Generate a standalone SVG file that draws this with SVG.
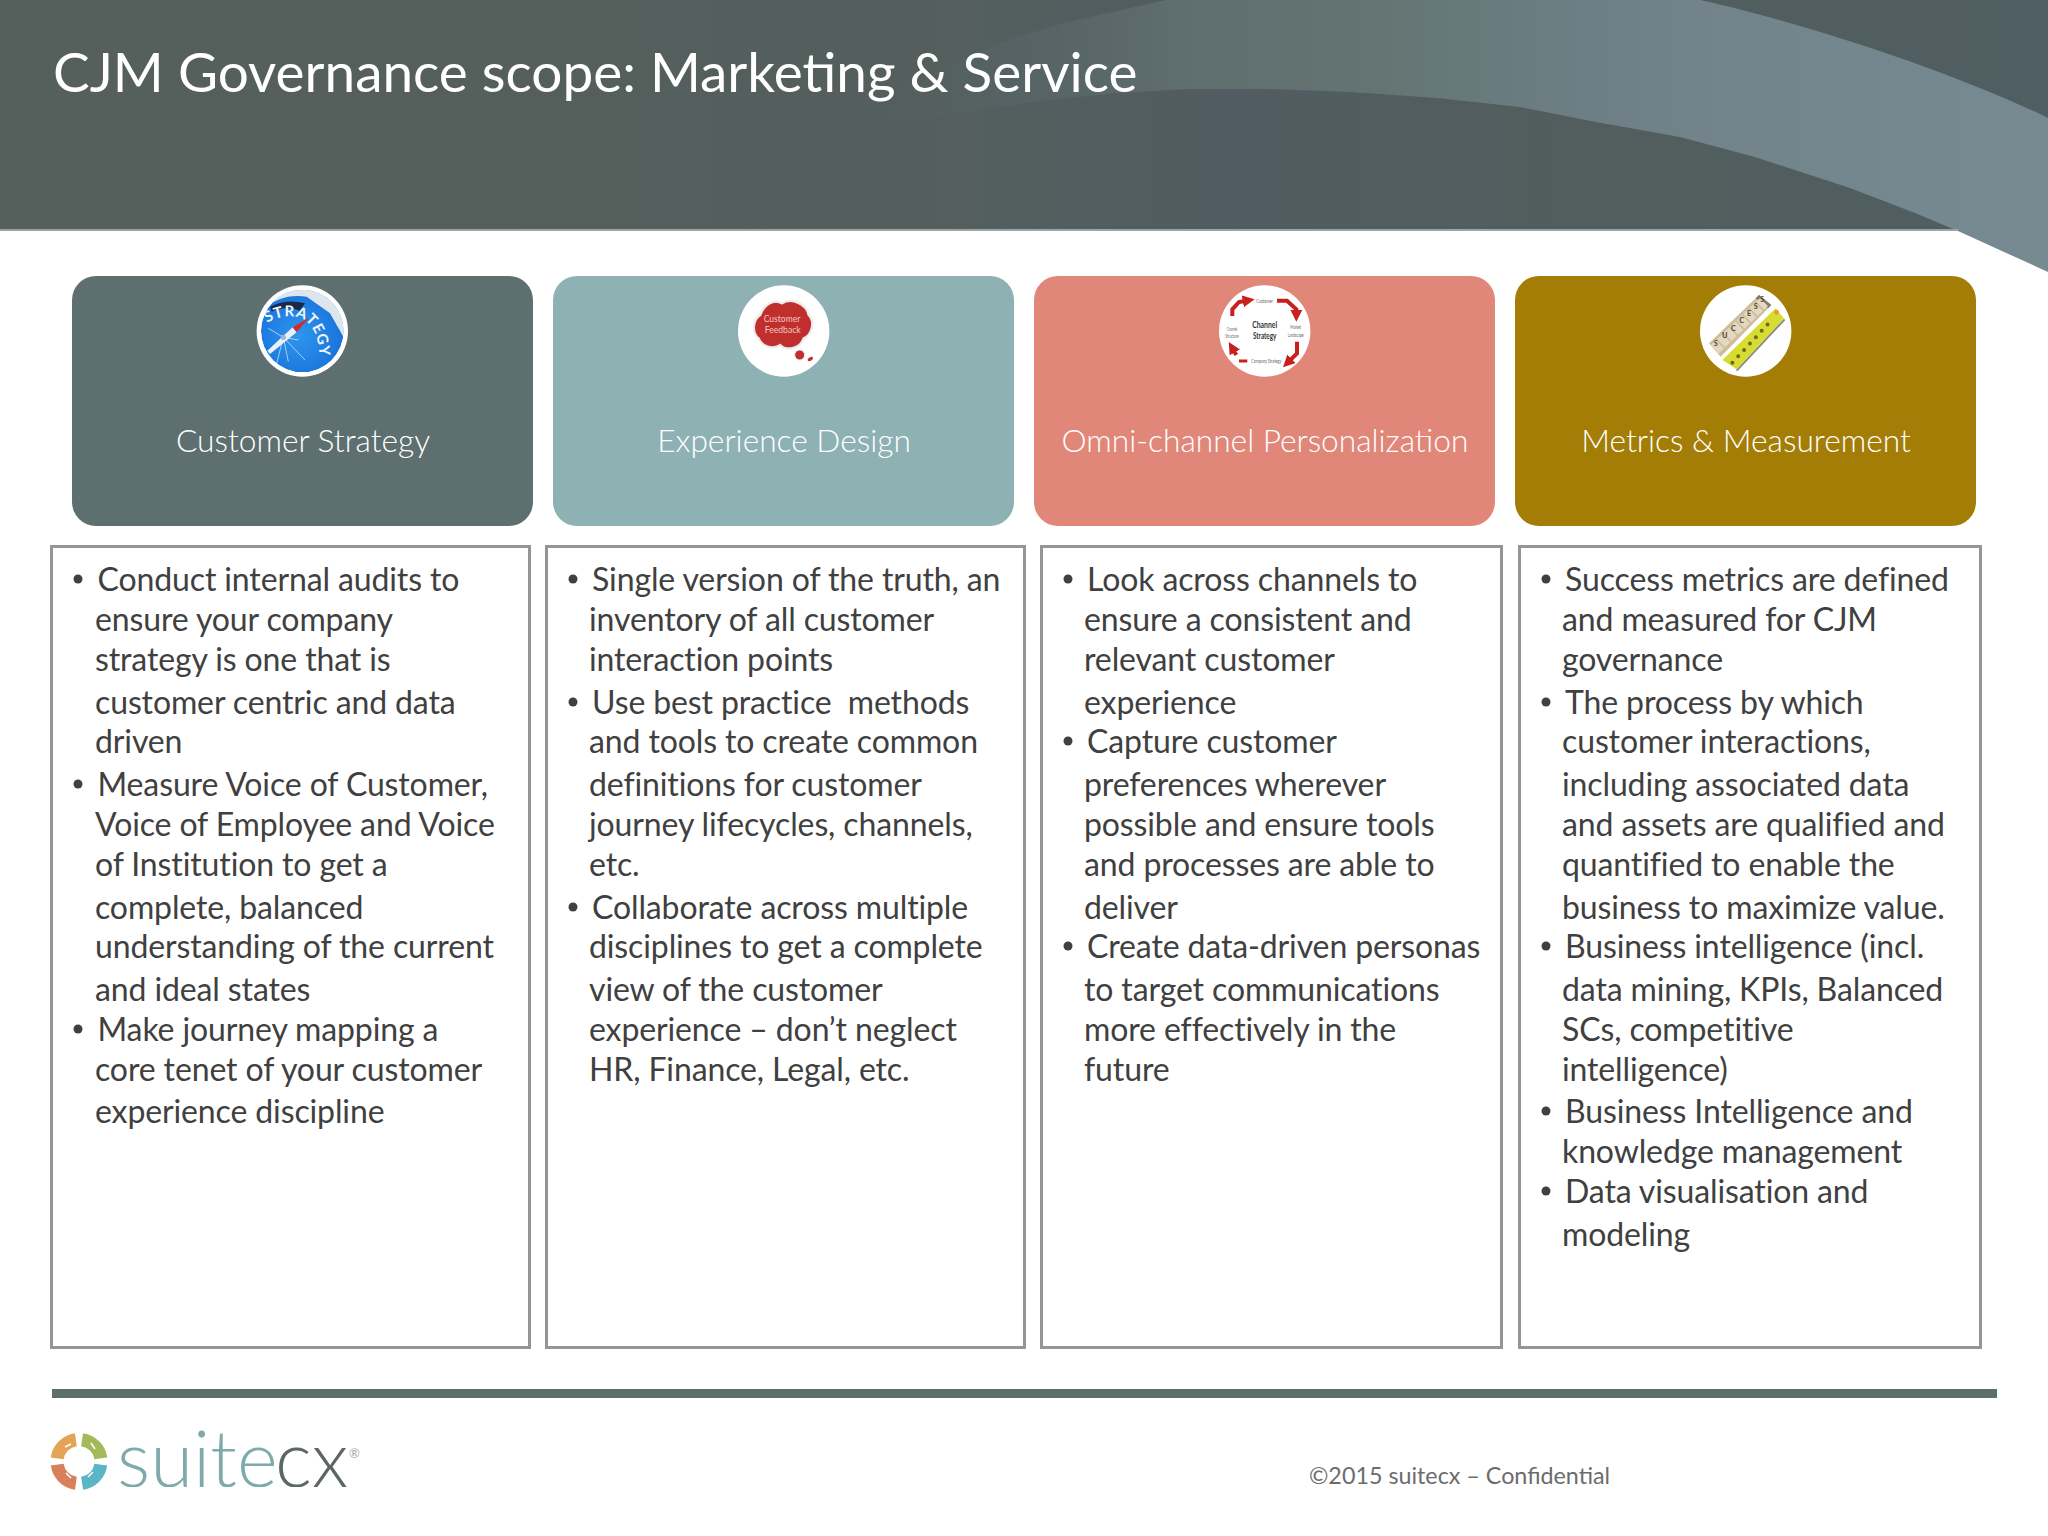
<svg xmlns="http://www.w3.org/2000/svg" width="2048" height="1536" viewBox="0 0 2048 1536">
<style>
text{font-family:Lato,"Noto Sans",sans-serif}
.title{font-size:54.9px;fill:#fff}
.lab{font-size:31.7px;fill:#fff;text-anchor:middle;font-weight:300}
.box{fill:#fff;stroke:#959595;stroke-width:3}
.b{font-size:32px;letter-spacing:-.12px;fill:#404040}
.dot{fill:#404040}
.ring{fill:#fff}
.tiny{fill:#666;font-size:19px;text-anchor:middle}
.big{fill:#333;font-size:27px;font-weight:700;text-anchor:middle}
.arr{fill:none;stroke:#C81F1F;stroke-width:12;marker-end:url(#ah)}
.cf{fill:#F2C7BF;font-size:27px;text-anchor:middle}
.blk{fill:#4E4334;font-size:22px;font-weight:700;text-anchor:middle}
</style>
<defs>
<linearGradient id="base" gradientUnits="userSpaceOnUse" x1="0" x2="2048" y1="0" y2="0"><stop offset="0" stop-color="#555F5C"/><stop offset=".45" stop-color="#545F5D"/><stop offset=".6" stop-color="#505C61"/><stop offset=".78" stop-color="#525E5D"/><stop offset="1" stop-color="#4F5E62"/></linearGradient>
<linearGradient id="band" gradientUnits="userSpaceOnUse" x1="880" x2="2048" y1="0" y2="0"><stop offset="0" stop-color="#566260" stop-opacity="0"/><stop offset=".14" stop-color="#59676A" stop-opacity=".7"/><stop offset=".26" stop-color="#5F6E6F"/><stop offset=".42" stop-color="#647472"/><stop offset=".55" stop-color="#6A7C80"/><stop offset=".7" stop-color="#72848A"/><stop offset="1" stop-color="#778A92"/></linearGradient>
<radialGradient id="comp" cx=".45" cy=".55" r=".6"><stop offset="0" stop-color="#2F96F0"/><stop offset="1" stop-color="#1670D8"/></radialGradient>
<marker id="ah" viewBox="0 0 10 10" refX="3" refY="5" markerWidth="3" markerHeight="3" orient="auto"><path d="M0 0L10 5L0 10z" fill="#C81F1F"/></marker>
<clipPath id="c1"><circle cx="157" cy="153" r="124"/></clipPath>
<clipPath id="c4"><circle cx="155" cy="153" r="128"/></clipPath>
<clipPath id="logo"><rect x="100" y="1420" width="270" height="67"/></clipPath>
<path id="arcS" d="M267 323C283 313 300 315 308 323C317 332 320 345 320 366"/>
</defs>

<g id="header">
<rect width="2048" height="230" fill="url(#base)"/>
<path d="M1166 0L1700 0C1800 22 1950 70 2048 118L2048 272L1958 231L1915 213L1850 188L1755 157L1680 137L1596 122L1520 107L1437 98L1350 92L1270 89L1190 89L1118 93L1040 101L959 113L900 124L840 137L880 95L999 43L1063 23Z" fill="url(#band)"/>
<rect y="229" width="1958" height="2" fill="#9AA5A8"/>
<text class="title" x="53" y="92">CJM Governance scope: Marketing &amp; Service</text>
</g>

<g id="node-customer-strategy">
<rect x="72" y="276" width="461" height="250" rx="24" fill="#5E6F70"/>
<circle class="ring" cx="302.300" cy="331" r="45.700"/>
<g transform="translate(250 280) scale(.3333)" clip-path="url(#c1)">
<circle cx="157" cy="153" r="124" fill="url(#comp)"/>
<path d="M40 90Q90 40 170 50L240 100L280 170L300 40L60 20Z" fill="#DDE5EE"/>
<path d="M60 80Q110 55 165 70L150 92Q110 75 65 95Z" fill="#1B2A48"/>
<g stroke="#BFDCF6" stroke-width="3" fill="none" opacity=".85"><path d="M100 172L55 145M100 172L115 245M100 172L165 240M100 172L145 180M100 172L80 250"/></g>
<path d="M52 212L128 142L140 157L60 222Z" fill="#E8F0F8"/>
<path d="M128 142L178 112L140 157Z" fill="#D22B2B"/>
<circle cx="100" cy="172" r="8" fill="#9FB8D0"/>
</g>
<text font-size="15" font-weight="700" fill="#F0F6FC" letter-spacing=".8"><textPath href="#arcS">STRATEGY</textPath></text>
<text class="lab" x="303" y="452">Customer Strategy</text>
</g>

<g id="node-experience-design">
<rect x="553" y="276" width="461" height="250" rx="24" fill="#8EB1B4"/>
<circle class="ring" cx="783.700" cy="331" r="45.700"/>
<g transform="translate(732 280) scale(.3333)">
<path d="M80 175C60 160 60 120 85 105C95 75 125 55 150 70C180 50 225 75 230 105C250 125 240 165 215 175C205 205 165 215 145 195C120 210 90 200 80 175Z" fill="#C12E2E" stroke="#EDEDED" stroke-width="7"/>
<circle cx="203" cy="225" r="15" fill="#C12E2E" stroke="#EDEDED" stroke-width="3"/>
<ellipse cx="235" cy="237" rx="9" ry="5" fill="#C12E2E" transform="rotate(-30 235 237)"/>
<text class="cf" x="150" y="127" textLength="110" lengthAdjust="spacingAndGlyphs">Customer</text>
<text class="cf" x="152" y="160" textLength="108" lengthAdjust="spacingAndGlyphs">Feedback</text>
</g>
<text class="lab" x="784" y="452">Experience Design</text>
</g>

<g id="node-omni-channel">
<rect x="1034" y="276" width="461" height="250" rx="24" fill="#E1877A"/>
<circle class="ring" cx="1264.700" cy="331" r="45.700"/>
<g transform="translate(1213 280) scale(.3333)">
<path class="arr" d="M58 108V88L78 66L100 62"/>
<path class="arr" d="M192 62H222L250 88V100"/>
<path class="arr" d="M252 185V220L228 244"/>
<path d="M103 243H78" fill="none" stroke="#C81F1F" stroke-width="9"/>
<path class="arr" d="M70 225L60 208"/>
<text class="tiny" x="155" y="69" textLength="50" lengthAdjust="spacingAndGlyphs">Customer</text>
<text class="big" x="155" y="143" textLength="75" lengthAdjust="spacingAndGlyphs">Channel</text>
<text class="big" x="155" y="176" textLength="70" lengthAdjust="spacingAndGlyphs">Strategy</text>
<text class="tiny" x="57" y="152" textLength="32" lengthAdjust="spacingAndGlyphs">Channel</text>
<text class="tiny" x="57" y="175" textLength="40" lengthAdjust="spacingAndGlyphs">Structure</text>
<text class="tiny" x="248" y="147" textLength="32" lengthAdjust="spacingAndGlyphs">Market</text>
<text class="tiny" x="248" y="172" textLength="48" lengthAdjust="spacingAndGlyphs">Landscape</text>
<text class="tiny" x="160" y="250" textLength="90" lengthAdjust="spacingAndGlyphs">Company Strategy</text>
</g>
<text class="lab" x="1265" y="452">Omni-channel Personalization</text>
</g>

<g id="node-metrics">
<rect x="1515" y="276" width="461" height="250" rx="24" fill="#A37D06"/>
<circle class="ring" cx="1745.700" cy="331" r="45.700"/>
<g transform="translate(1694 280) scale(.3333)" clip-path="url(#c4)">
<path d="M128 272L272 118" stroke="#8A8A80" stroke-width="6" fill="none"/>
<path d="M85 240L245 85L270 115L128 268Z" fill="#D8DC30"/>
<path d="M115 248L235 118" stroke="#6A6A20" stroke-width="12" stroke-linecap="round" stroke-dasharray="0 26" fill="none"/>
<circle cx="248" cy="97" r="7" fill="#E89B2A"/>
<path d="M45 190L195 45L232 75L80 230Z" fill="#CFBC9A"/>
<path d="M195 45L232 75L222 85L185 55Z" fill="#7F7A70"/>
<path d="M62 208L210 66" stroke="#E4D8C0" stroke-width="34" stroke-dasharray="22 5" fill="none"/>
<text class="blk" x="65" y="198">S</text><text class="blk" x="92" y="175">U</text><text class="blk" x="118" y="153">C</text><text class="blk" x="143" y="130">C</text><text class="blk" x="165" y="108">E</text><text class="blk" x="185" y="88">S</text><text class="blk" x="205" y="65">S</text>
</g>
<text class="lab" x="1746" y="452">Metrics &amp; Measurement</text>
</g>

<g id="text-col-1">
<rect class="box" x="51.500" y="546.500" width="478" height="801"/>
<g class="b" transform="translate(0 1)">
<circle class="dot" cx="78" cy="578" r="4.500"/><text x="97.500" y="590">Conduct internal audits to</text>
<text x="95" y="630">ensure your company</text>
<text x="95" y="670">strategy is one that is</text>
<text x="95" y="713">customer centric and data</text>
<text x="95" y="752">driven</text>
<circle class="dot" cx="78" cy="783" r="4.500"/><text x="97.500" y="795">Measure Voice of Customer,</text>
<text x="95" y="835">Voice of Employee and Voice</text>
<text x="95" y="875">of Institution to get a</text>
<text x="95" y="918">complete, balanced</text>
<text x="95" y="957">understanding of the current</text>
<text x="95" y="1000">and ideal states</text>
<circle class="dot" cx="78" cy="1028" r="4.500"/><text x="97.500" y="1040">Make journey mapping a</text>
<text x="95" y="1080">core tenet of your customer</text>
<text x="95" y="1122">experience discipline</text>
</g></g>

<g id="text-col-2">
<rect class="box" x="546.500" y="546.500" width="478" height="801"/>
<g class="b" transform="translate(0 1)">
<circle class="dot" cx="573" cy="578" r="4.500"/><text x="592" y="590">Single version of the truth, an</text>
<text x="589" y="630">inventory of all customer</text>
<text x="589" y="670">interaction points</text>
<circle class="dot" cx="573" cy="701" r="4.500"/><text x="592" y="713" xml:space="preserve">Use best practice  methods</text>
<text x="589" y="752">and tools to create common</text>
<text x="589" y="795">definitions for customer</text>
<text x="589" y="835">journey lifecycles, channels,</text>
<text x="589" y="875">etc.</text>
<circle class="dot" cx="573" cy="906" r="4.500"/><text x="592" y="918">Collaborate across multiple</text>
<text x="589" y="957">disciplines to get a complete</text>
<text x="589" y="1000">view of the customer</text>
<text x="589" y="1040">experience – don’t neglect</text>
<text x="589" y="1080">HR, Finance, Legal, etc.</text>
</g></g>

<g id="text-col-3">
<rect class="box" x="1041.500" y="546.500" width="460" height="801"/>
<g class="b" transform="translate(0 1)">
<circle class="dot" cx="1068" cy="578" r="4.500"/><text x="1087" y="590">Look across channels to</text>
<text x="1084" y="630">ensure a consistent and</text>
<text x="1084" y="670">relevant customer</text>
<text x="1084" y="713">experience</text>
<circle class="dot" cx="1068" cy="740" r="4.500"/><text x="1087" y="752">Capture customer</text>
<text x="1084" y="795">preferences wherever</text>
<text x="1084" y="835">possible and ensure tools</text>
<text x="1084" y="875">and processes are able to</text>
<text x="1084" y="918">deliver</text>
<circle class="dot" cx="1068" cy="945" r="4.500"/><text x="1087" y="957">Create data-driven personas</text>
<text x="1084" y="1000">to target communications</text>
<text x="1084" y="1040">more effectively in the</text>
<text x="1084" y="1080">future</text>
</g></g>

<g id="text-col-4">
<rect class="box" x="1519.500" y="546.500" width="461" height="801"/>
<g class="b" transform="translate(0 1)">
<circle class="dot" cx="1546" cy="578" r="4.500"/><text x="1565" y="590">Success metrics are defined</text>
<text x="1562" y="630">and measured for CJM</text>
<text x="1562" y="670">governance</text>
<circle class="dot" cx="1546" cy="701" r="4.500"/><text x="1565" y="713">The process by which</text>
<text x="1562" y="752">customer interactions,</text>
<text x="1562" y="795">including associated data</text>
<text x="1562" y="835">and assets are qualified and</text>
<text x="1562" y="875">quantified to enable the</text>
<text x="1562" y="918">business to maximize value.</text>
<circle class="dot" cx="1546" cy="945" r="4.500"/><text x="1565" y="957">Business intelligence (incl.</text>
<text x="1562" y="1000">data mining, KPIs, Balanced</text>
<text x="1562" y="1040">SCs, competitive</text>
<text x="1562" y="1080">intelligence)</text>
<circle class="dot" cx="1546" cy="1110" r="4.500"/><text x="1565" y="1122">Business Intelligence and</text>
<text x="1562" y="1162">knowledge management</text>
<circle class="dot" cx="1546" cy="1190" r="4.500"/><text x="1565" y="1202">Data visualisation and</text>
<text x="1562" y="1245">modeling</text>
</g></g>

<g id="footer">
<rect x="52" y="1389" width="1945" height="9" fill="#5E6F6B"/>
<g fill="none" stroke-width="13">
<path d="M57.200 1458.400A22 22 0 0 1 75.900 1439.700" stroke="#E3A555"/>
<path d="M82.100 1439.700A22 22 0 0 1 100.800 1458.400" stroke="#A3B95B"/>
<path d="M100.800 1464.600A22 22 0 0 1 82.100 1483.300" stroke="#5BB5C6"/>
<path d="M75.900 1483.300A22 22 0 0 1 57.200 1464.600" stroke="#D8805C"/>
</g>
<g fill="none" stroke="#fff" stroke-width="1.500"><path d="M65 1447L71 1444M91 1443L95 1449M93 1472L88 1477M66 1473L71 1478"/></g>
<g clip-path="url(#logo)" font-size="78" font-weight="300">
<text x="117" y="1487" fill="#7FAAAB">suite</text>
<text x="275" y="1487" fill="#5C6765">cx</text>
</g>
<text x="349" y="1458" font-size="13" fill="#A8A8A8">®</text>
<text x="1309" y="1484" font-size="23.300" fill="#6C6C6C">©2015 suitecx – Confidential</text>
</g>
</svg>
